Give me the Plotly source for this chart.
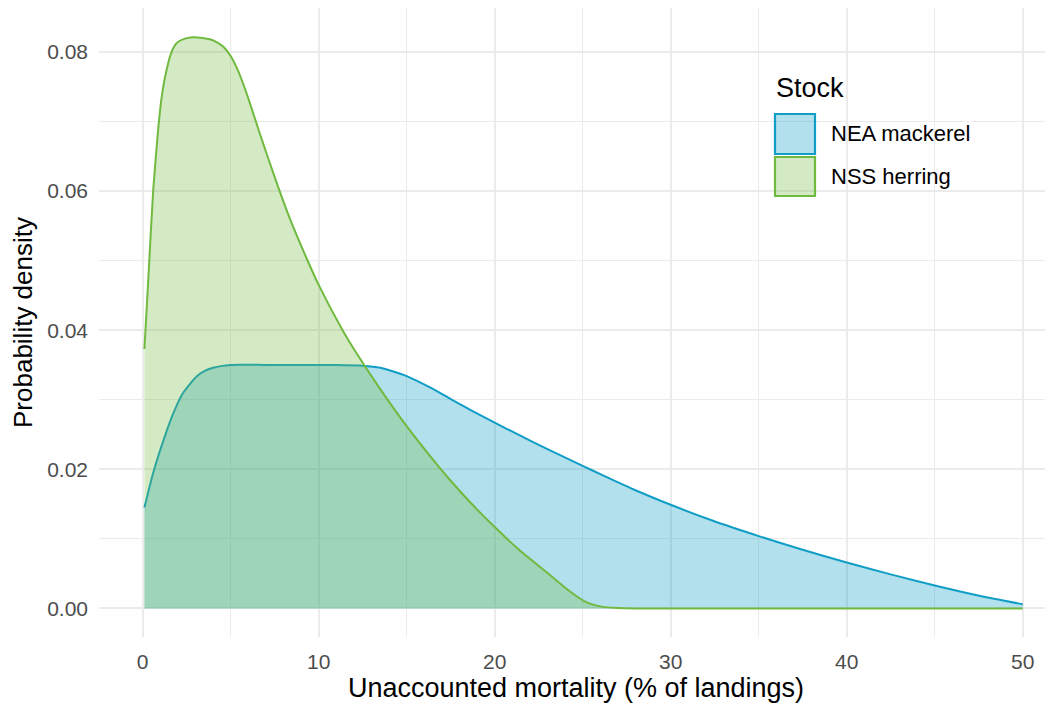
import plotly.graph_objects as go

# ---- data ----
stocks = ["NEA mackerel", "NSS herring"]

mackerel_x = [0.1, 0.6, 1.2, 1.75, 2.3, 3.05, 3.5, 4.0, 5.0, 7.0, 9.0, 11.0, 12.5, 13.5,
              14.2, 15.0, 16.3, 17.5, 18.8, 20.0, 21.4, 23.0, 25.0, 26.0, 27.9, 30.0,
              32.4, 35.0, 37.4, 40.0, 42.5, 45.0, 47.4, 50.0]
mackerel_y = [0.0145, 0.0195, 0.0243, 0.0281, 0.0310, 0.0333, 0.0341, 0.0346, 0.0350,
              0.0350, 0.0350, 0.0350, 0.0349, 0.0346, 0.0341, 0.0334, 0.0318, 0.0301,
              0.0283, 0.0267, 0.0249, 0.0229, 0.0205, 0.0193, 0.0171, 0.0149, 0.0126,
              0.0104, 0.0085, 0.0066, 0.0049, 0.0033, 0.0019, 0.0006]

herring_x = [0.1, 0.32, 0.6, 0.88, 1.07, 1.22, 1.36, 1.55, 1.75, 2.0, 2.4, 2.87, 3.4,
             3.82, 4.2, 4.6, 5.0, 5.4, 5.8, 6.2, 6.65, 7.61, 8.37, 9.32, 10.0, 11.4,
             12.07, 13.48, 15.0, 16.3, 17.45, 18.78, 20.0, 21.4, 22.95, 24.3, 25.2,
             26.0, 27.0, 28.0, 30.0, 35.0, 40.0, 45.0, 50.0]
herring_y = [0.0373, 0.0473, 0.0601, 0.0688, 0.0733, 0.0757, 0.0774, 0.0793, 0.0806,
             0.0814, 0.0819, 0.0821, 0.0820, 0.0818, 0.0814, 0.0807, 0.0794, 0.0774,
             0.0748, 0.0718, 0.0683, 0.0612, 0.0560, 0.0503, 0.0465, 0.0398, 0.0370,
             0.0316, 0.0262, 0.0220, 0.0185, 0.0148, 0.0117, 0.0084, 0.0052, 0.0024,
             0.0009, 0.0003, 0.00005, 0.0, 0.0, 0.0, 0.0, 0.0, 0.0]

x_ticks = [0, 10, 20, 30, 40, 50]
y_ticks = [0.00, 0.02, 0.04, 0.06, 0.08]
y_tick_labels = ["0.00", "0.02", "0.04", "0.06", "0.08"]

# ---- styles ----
line_colors = {"NEA mackerel": "rgb(17,158,198)", "NSS herring": "rgb(112,186,63)"}
fill_colors = {"NEA mackerel": "rgba(17,158,198,0.32)", "NSS herring": "rgba(112,186,63,0.30)"}
FONT = "Liberation Sans, Arial, sans-serif"

fig = go.Figure()
for name, xs, ys in [("NEA mackerel", mackerel_x, mackerel_y),
                     ("NSS herring", herring_x, herring_y)]:
    fig.add_trace(go.Scatter(
        x=xs, y=ys, mode="lines", name=name,
        line=dict(color=line_colors[name], width=2, shape="spline", smoothing=0.6),
        fill="tozeroy", fillcolor=fill_colors[name],
        showlegend=False, hoverinfo="x+y+name"))

# the page adds an 8px body margin; figure sized to fit the window
OFF = 8
W, H = 1053 - OFF, 703 - OFF
# plot area in screenshot pixels
SL, SR, ST, SB = 99, 1053, 8, 637
L, R, T, B = SL - OFF, SR - OFF, ST - OFF, SB - OFF


def px(x):
    return (x - SL) / (SR - SL)


def py(y):
    return (SB - y) / (SB - ST)


# manual legend (ggplot style), positions in screenshot pixels
shapes = []
annotations = []
annotations.append(dict(text="Stock", x=px(774), y=py(88), xref="paper", yref="paper",
                        xanchor="left", yanchor="middle", showarrow=False,
                        font=dict(size=27, color="black", family=FONT)))
key_rows = [(113, 155), (156, 197)]
for name, (y0, y1) in zip(stocks, key_rows):
    shapes.append(dict(type="rect", xref="paper", yref="paper",
                       x0=px(775), x1=px(815), y0=py(y1 - 1), y1=py(y0 + 1),
                       fillcolor=fill_colors[name],
                       line=dict(color=line_colors[name], width=2.2), layer="above"))
    annotations.append(dict(text=name, x=px(829), y=py((y0 + y1) / 2), xref="paper",
                            yref="paper", xanchor="left", yanchor="middle",
                            showarrow=False,
                            font=dict(size=22, color="black", family=FONT)))

grid_color = "#EBEBEB"
fig.update_layout(
    width=W, height=H,
    margin=dict(l=L, r=W - R, t=T, b=H - B, autoexpand=False),
    paper_bgcolor="white", plot_bgcolor="white",
    font=dict(family=FONT),
    shapes=shapes, annotations=annotations,
    xaxis=dict(
        range=[-2.48, 51.72], tickvals=x_ticks, ticktext=[str(v) for v in x_ticks],
        showgrid=True, gridcolor=grid_color, gridwidth=1.7, zeroline=False,
        showline=False, ticks="", ticklabelstandoff=10,
        tickfont=dict(size=21, color="#4D4D4D", family=FONT),
        minor=dict(dtick=5, tick0=0, showgrid=True, gridcolor=grid_color, gridwidth=1),
        title=dict(text="Unaccounted mortality (% of landings)", standoff=6,
                   font=dict(size=27, color="black", family=FONT)),
        automargin=False),
    yaxis=dict(
        range=[-0.0041, 0.0863], tickvals=y_ticks, ticktext=y_tick_labels,
        showgrid=True, gridcolor=grid_color, gridwidth=1.7, zeroline=False,
        showline=False, ticks="", ticklabelstandoff=10,
        tickfont=dict(size=21, color="#4D4D4D", family=FONT),
        minor=dict(dtick=0.01, tick0=0, showgrid=True, gridcolor=grid_color, gridwidth=1),
        title=dict(text="Probability density", standoff=8,
                   font=dict(size=26, color="black", family=FONT)),
        automargin=False),
)

fig.write_html("out.html")
